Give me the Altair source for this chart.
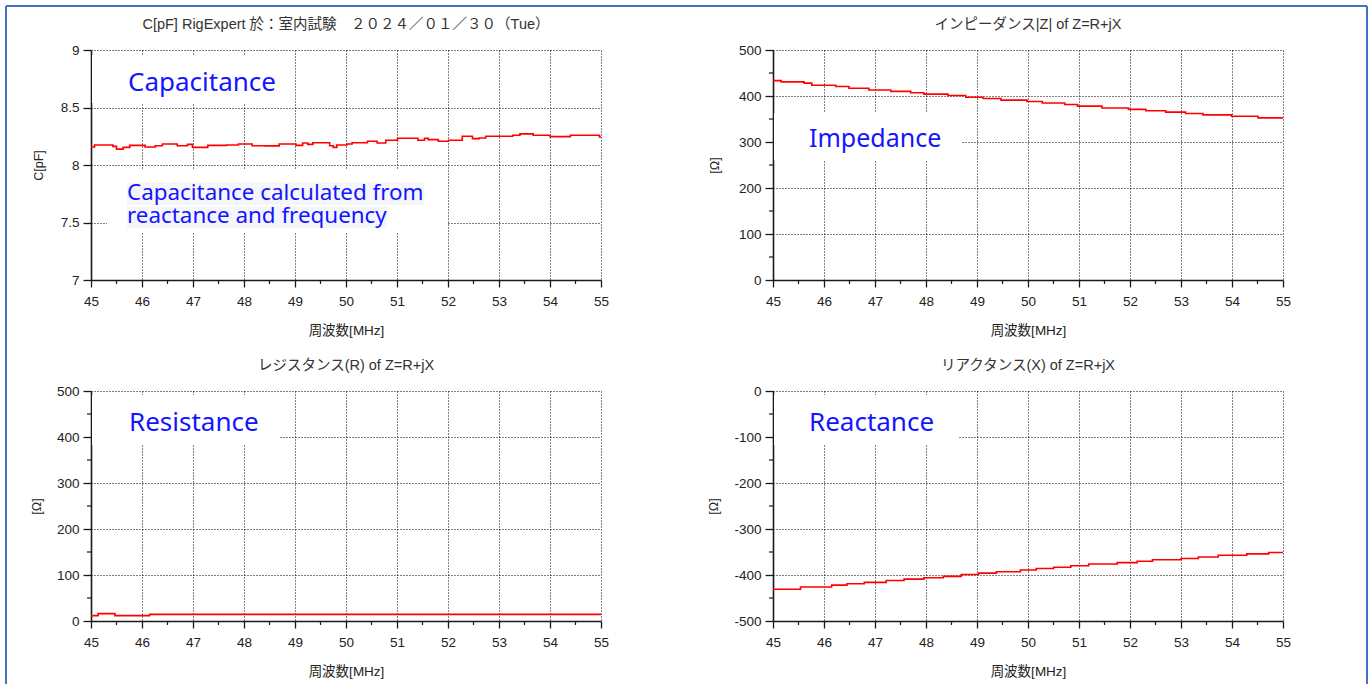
import altair as alt
import pandas as pd

# ---------------- data ----------------
cap_freq = [45.0, 45.07, 45.43, 45.50, 45.63, 45.76, 46.06, 46.26, 46.40, 46.69, 46.89, 46.99,
            47.29, 47.66, 47.89, 48.16, 48.42, 48.69, 49.02, 49.15, 49.25, 49.35, 49.68, 49.75,
            49.82, 50.02, 50.12, 50.42, 50.61, 50.78, 51.01, 51.41, 51.54, 51.61, 51.81, 52.01,
            52.28, 52.48, 52.61, 52.74, 53.27, 53.41, 53.67, 54.00, 54.40, 54.97, 55.0]
cap_vals = [8.156, 8.174, 8.162, 8.138, 8.153, 8.171, 8.156, 8.168, 8.182, 8.168, 8.179, 8.153,
            8.171, 8.174, 8.182, 8.168, 8.166, 8.182, 8.171, 8.191, 8.179, 8.194, 8.168, 8.153,
            8.174, 8.182, 8.194, 8.206, 8.191, 8.215, 8.232, 8.215, 8.232, 8.221, 8.206, 8.215,
            8.250, 8.229, 8.235, 8.250, 8.259, 8.271, 8.259, 8.247, 8.259, 8.244, 8.244]

imp_freq = [45.0, 45.16, 45.61, 45.76, 46.23, 46.49, 46.88, 47.31, 47.70, 47.96, 48.43, 48.78,
            49.12, 49.47, 49.98, 50.28, 50.72, 50.97, 51.45, 51.97, 52.31, 52.70, 53.09, 53.43,
            53.99, 54.51, 55.0]
imp_vals = [433.5, 430.6, 428.0, 423.4, 420.5, 417.0, 413.0, 410.0, 407.0, 404.0, 401.0, 397.4,
            394.5, 391.0, 388.0, 384.7, 381.5, 378.0, 374.0, 371.0, 368.0, 365.0, 362.0, 359.0,
            356.0, 352.5, 352.5]

res_freq = [45.0, 45.14, 45.47, 46.15, 55.0]
res_vals = [11.6, 16.0, 11.6, 14.5, 14.5]

rea_freq = [45.0, 45.54, 46.15, 46.45, 46.79, 47.22, 47.57, 47.96, 48.34, 48.69, 49.03, 49.38,
            49.85, 50.16, 50.50, 50.84, 51.19, 51.75, 52.14, 52.44, 53.00, 53.34, 53.73, 54.29,
            54.72, 55.0]
rea_vals = [-431, -426, -422, -419, -416, -412, -409, -406, -403, -399, -396, -393,
            -389, -386, -383, -380, -376, -373, -370, -367, -364, -361, -357, -354,
            -351, -351]

x_major = [45, 46, 47, 48, 49, 50, 51, 52, 53, 54, 55]
x_minor = [45.5, 46.5, 47.5, 48.5, 49.5, 50.5, 51.5, 52.5, 53.5, 54.5]
cap_major = [7, 7.5, 8, 8.5, 9]
ohm_major = [0, 100, 200, 300, 400, 500]
ohm_minor = [50, 150, 250, 350, 450]
rea_major = [-500, -400, -300, -200, -100, 0]
rea_minor = [-450, -350, -250, -150, -50]

titles = [
    "C[pF] RigExpert 於：室内試験　２０２４／０１／３０（Tue）",
    "インピーダンス|Z| of Z=R+jX",
    "レジスタンス(R) of Z=R+jX",
    "リアクタンス(X) of Z=R+jX",
]

# ---------------- style ----------------
W, H = 510, 230
FONT = "Liberation Sans, Noto Sans CJK JP"
NOTE_FONT = "Noto Sans"
BLUE = "#1414ff"
INK = "#1a1a1a"
one = pd.DataFrame({"k": [0]})


def x_enc():
    ax = alt.Axis(values=x_major, format="d", labelFlush=False, labelOverlap=False,
                  grid=True, gridColor="#000", gridDash=[1, 2], gridWidth=1, gridOpacity=1,
                  domainColor=INK, domainWidth=1.6, tickColor=INK, tickWidth=1.3, tickSize=7,
                  labelFont=FONT, labelFontSize=13.5, labelColor="#222", labelPadding=7,
                  title="周波数[MHz]", titleFont=FONT, titleFontSize=13.5, titleFontWeight="normal",
                  titleColor="#222", titleX=W / 2, titleY=50, titleBaseline="middle", zindex=0)
    return alt.X("f:Q", scale=alt.Scale(domain=[45, 55], nice=False, zero=False), axis=ax)


def y_enc(domain, values, ytitle, label_expr, title_x):
    ax = alt.Axis(values=values, labelExpr=label_expr, labelFlush=False, labelOverlap=False,
                  grid=True, gridColor="#000", gridDash=[1, 2], gridWidth=1, gridOpacity=1,
                  domainColor=INK, domainWidth=1.6, tickColor=INK, tickWidth=1.3, tickSize=8,
                  labelFont=FONT, labelFontSize=13.5, labelColor="#222", labelPadding=4,
                  title=ytitle, titleFont=FONT, titleFontSize=12.5, titleFontWeight="normal",
                  titleColor="#222", titleX=title_x, titleY=H / 2, titleBaseline="middle", zindex=0)
    return alt.Y("v:Q", scale=alt.Scale(domain=domain, nice=False, zero=False), axis=ax)


def panel(freq, vals, domain, ymajor, yminor, ytitle, title_x, label_expr, title, boxes, notes,
          extra=()):
    df = pd.DataFrame({"f": freq, "v": vals})
    X = x_enc()
    Y = y_enc(domain, ymajor, ytitle, label_expr, title_x)
    layers = [
        alt.Chart(df).mark_line(color="#ff0000", strokeWidth=1.6, interpolate="step-after")
        .encode(x=X, y=Y)
    ]
    layers.append(
        alt.Chart(pd.DataFrame({"f": x_minor})).mark_rule(color=INK, strokeWidth=1.2)
        .encode(x=X, y=alt.value(H), y2=alt.value(H + 4))
    )
    if yminor:
        layers.append(
            alt.Chart(pd.DataFrame({"v": yminor})).mark_rule(color=INK, strokeWidth=1.2)
            .encode(y=Y, x=alt.value(0), x2=alt.value(-4))
        )
    for (bx1, bx2, by1, by2, col) in boxes:
        layers.append(
            alt.Chart(one).mark_rect(color=col)
            .encode(x=alt.value(bx1), x2=alt.value(bx2), y=alt.value(by1), y2=alt.value(by2))
        )
    for (tx, ty, txt, size) in notes:
        layers.append(
            alt.Chart(one).mark_text(text=txt, align="left", baseline="middle", font=NOTE_FONT,
                                     fontSize=size, lineHeight=23, color=BLUE)
            .encode(x=alt.value(tx), y=alt.value(ty))
        )
    layers.append(
        alt.Chart(one).mark_text(text=title, align="center", baseline="middle", font=FONT,
                                 fontSize=14.5, color="#333")
        .encode(x=alt.value(W / 2), y=alt.value(-25))
    )
    layers.extend(extra)
    return alt.layer(*layers).properties(width=W, height=H)


BORDER = "#4472c4"
border = [
    alt.Chart(one).mark_rule(color=BORDER, strokeWidth=2)
    .encode(x=alt.value(-85), y=alt.value(-44), y2=alt.value(634)),
    alt.Chart(one).mark_rule(color=BORDER, strokeWidth=2)
    .encode(x=alt.value(-85), x2=alt.value(1276), y=alt.value(-44)),
    alt.Chart(one).mark_rule(color=BORDER, strokeWidth=2)
    .encode(x=alt.value(1276), y=alt.value(-44), y2=alt.value(634)),
]

plain = "'' + datum.value"
neg = "datum.value < 0 ? '-' + abs(datum.value) : '' + datum.value"

p1 = panel(cap_freq, cap_vals, [7, 9], cap_major, None, "C[pF]", -53, plain, titles[0],
           boxes=[(1, 200, 5, 53, "white"), (16, 357, 120, 183, "white"),
                  (36, 333, 132, 155, "#f4f6fb"), (36, 296, 156, 178, "#f4f6fb")],
           notes=[(37, 33, "Capacitance", 26),
                  (36, 143, ["Capacitance calculated from", "reactance and frequency"], 22.4)],
           extra=border)
p2 = panel(imp_freq, imp_vals, [0, 500], ohm_major, ohm_minor, "[Ω]", -59, plain, titles[1],
           boxes=[(1, 188, 63, 110, "white")],
           notes=[(36, 89, "Impedance", 25)])
p3 = panel(res_freq, res_vals, [0, 500], ohm_major, ohm_minor, "[Ω]", -55, plain, titles[2],
           boxes=[(1, 189, 4, 54, "white")],
           notes=[(38, 32, "Resistance", 26)])
p4 = panel(rea_freq, rea_vals, [-500, 0], rea_major, rea_minor, "[Ω]", -60, neg, titles[3],
           boxes=[(1, 185, 4, 54, "white")],
           notes=[(36, 32, "Reactance", 26)])

chart = (
    alt.concat(p1, p2, p3, p4, columns=2, spacing={"row": 111, "column": 172}, bounds="flush")
    .properties(padding={"left": 5, "top": 5, "right": 0, "bottom": 0}, background="white")
    .configure_view(stroke=None)
)

chart.save("out.html", embed_options={"renderer": "svg", "actions": False})
